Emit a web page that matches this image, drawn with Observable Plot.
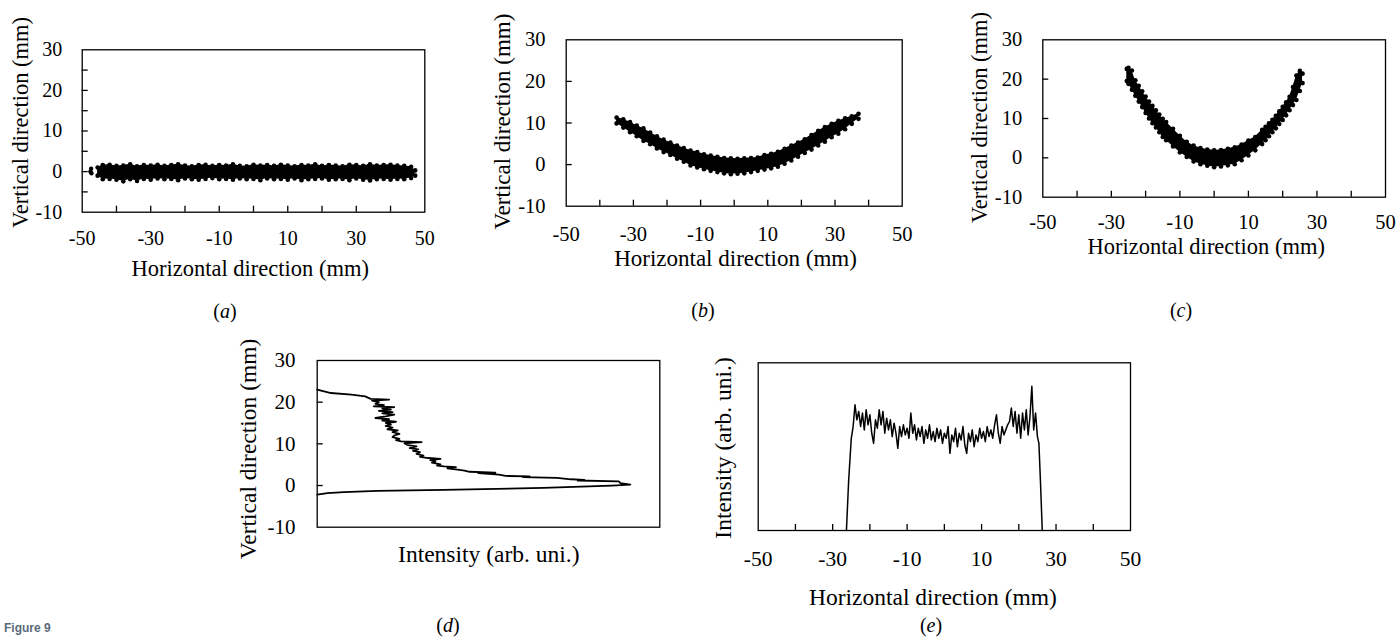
<!DOCTYPE html>
<html>
<head>
<meta charset="utf-8">
<script src="https://cdn.jsdelivr.net/npm/d3@7"></script>
<script src="https://cdn.jsdelivr.net/npm/@observablehq/plot@0.6"></script>
<style>
html,body{margin:0;padding:0;background:#fff;}
body{position:relative;width:1399px;height:637px;overflow:hidden;font-family:"Liberation Serif","Times New Roman",serif;color:#000;}
.panel{position:absolute;}
.panel svg{overflow:visible;display:block;}
.panel svg text{font-family:"Liberation Serif","Times New Roman",serif;}
.cap{position:absolute;font-size:20px;line-height:1;transform:translate(-50%,-50%);white-space:nowrap;}
.fig{position:absolute;left:4px;top:622px;font-family:"Liberation Sans",Arial,sans-serif;font-weight:bold;font-size:12px;line-height:1;color:#5b6b7a;}
</style>
</head>
<body>
<div id="pa" class="panel"></div>
<div id="pb" class="panel"></div>
<div id="pc" class="panel"></div>
<div id="pd" class="panel"></div>
<div id="pe" class="panel"></div>
<div class="cap" style="left:225px;top:311px">(<i>a</i>)</div>
<div class="cap" style="left:703px;top:310px">(<i>b</i>)</div>
<div class="cap" style="left:1181px;top:310px">(<i>c</i>)</div>
<div class="cap" style="left:448px;top:625px">(<i>d</i>)</div>
<div class="cap" style="left:931px;top:625px">(<i>e</i>)</div>
<div class="fig">Figure 9</div>
<script>
// ---------- data ----------
const hTickLabels = [-50, -30, -10, 10, 30, 50];
const vTickLabels = [-10, 0, 10, 20, 30];
const hMinorTicks = [-40, -30, -20, -10, 0, 10, 20, 30, 40];
const vMinorTicksA = [-5, 0, 5, 10, 15, 20, 25];
const vMinorTicks = [0, 10, 20];
const hTitle = "Horizontal direction (mm)";
const vTitle = "Vertical direction (mm)";
const iTitle = "Intensity (arb. uni.)";

// (a) beam spot band: x, upper and lower edge of the point cloud (mm)
const aX = [-45.5,-44,-42,-40,-38,-36,-34,-32,-30,-28,-26,-24,-22,-20,-18,-16,-14,-12,-10,-8,-6,-4,-2,0,2,4,6,8,10,12,14,16,18,20,22,24,26,28,30,32,34,36,38,40,42,44,46,47.2];
const aHi = [1.0,1.6,1.7,1.4,1.5,1.8,1.3,1.6,1.5,1.7,1.4,1.6, 1.8,1.5,1.3,1.6,1.7,1.4,1.6,1.5,1.8,1.4,1.3,1.7, 1.5,1.6,1.4,1.7,1.5,1.3,1.6,1.5,1.8,1.4,1.6,1.5, 1.3,1.7,1.6,1.4,1.8,1.5,1.6,1.7,1.5,1.4,1.2,0.3];
const aLo = [-1.0,-1.9,-1.8,-2.0,-2.4,-1.9,-2.3,-1.8,-2.0,-1.7,-1.9,-1.8, -2.1,-1.7,-1.9,-2.0,-1.8,-1.6,-1.9,-1.8,-2.0,-1.7,-1.9,-1.8, -2.1,-1.7,-1.9,-1.8,-2.0,-1.7,-2.1,-1.9,-1.8,-1.7,-2.0,-1.9, -1.8,-2.1,-1.7,-2.0,-2.2,-1.9,-1.8,-2.0,-1.8,-1.9,-1.6,-1.0];
const aStrayX = [-47.4, -47.6, -47.3];
const aStrayY = [0.7, 0.0, -0.4];

// (b)
const bX = [-35,-33,-31,-29,-27,-25,-23,-21,-19,-17,-15,-13,-11,-9,-7,-5,-3,-1,1,3,5,7,9,11,13,15,17,19,21,23,25,27,29,31,33,35,37];
const bHi = [11.3,10.9,10.2,9.4,8.7,7.7,6.8,6.0,5.3,4.6,4.0,3.4,3.0,2.5,2.2,1.9,1.6,1.5,1.4,1.5,1.6,1.7,2.3,2.6,3.1,3.8,4.6,5.3,6.1,7.1,8.1,9.0,9.8,10.5,11.1,11.6,12.2];
const bLo = [9.9,8.9,7.8,6.8,5.7,4.9,3.9,3.0,2.3,1.4,0.7,-0.2,-0.7,-1.1,-1.5,-1.8,-2.1,-2.3,-2.2,-2.1,-1.8,-1.5,-1.2,-0.9,-0.5,0.2,1.0,1.9,2.8,3.6,4.6,5.5,6.6,7.4,8.5,9.8,11.0];

// (c)
const cX = [-25.5,-25,-24,-23,-22,-21,-20,-19,-18,-17,-16,-15,-14,-12,-10,-8,-6,-4,-2,0,2,4,6,8,10,12,14,15,16,17,18,19,20,21,22,23,24,25,25.8];
const cHi = [22.6,22.9,22.2,19.7,18.3,16.9,15.6,14.3,13.2,12.1,11.0,9.9,9.1,7.4,5.6,4.1,3.1,2.5,2.1,1.9, 2.0,2.3,2.7,3.4,4.4,5.3,7.1,7.9,8.8,9.7,10.7,11.8,13.0,14.1,15.5,18.0,20.9,22.1,21.4];
const cLo = [19.5,18.8,17.3,15.8,14.3,12.9,11.4,10.0,8.8,7.7,6.5,5.3,4.5,2.9,1.4,0.2,-0.9,-1.6,-2.0,-2.4, -2.2,-1.9,-1.6,-0.6,0.6,1.9,3.5,4.5,5.5,6.5,7.5,8.6,9.6,10.8,12.1,13.4,14.7,17.0,19.0];

// (d) vertical intensity profile (path order)
const dVertical = [23.0,22.2,21.8,21.4,20.8,20.6,20.4,20.0,19.6,19.3,19.0,18.8,18.5,18.2,17.9,17.6,17.3,17.0,16.6,16.2,15.9,15.6,15.3,15.0,14.6,14.3,13.9,13.5,13.2,12.8,12.4,12.0,11.6,11.2,10.9,10.6,10.4,10.1,9.7,9.4,9.0,8.7,8.3,8.0,7.6,7.2,6.9,6.6,6.4,6.1,5.8,5.5,5.1,4.8,4.6,4.4,4.1,3.8,3.6,3.3,3.1,3.0,2.6,2.3,2.2,2.0,1.85,1.5,1.35,1.2,1.0,0.6,0.2,0.0,-0.56,-1.04,-1.28,-1.6,-1.84,-2.16];
const dIntensity = [0,0.04,0.10,0.14,0.156,0.21,0.16,0.18,0.17,0.195,0.165,0.225,0.19,0.215,0.18,0.22,0.19,0.225,0.2,0.17,0.21,0.19,0.23,0.2,0.215,0.2,0.22,0.205,0.235,0.22,0.24,0.225,0.22,0.24,0.23,0.245,0.305,0.255,0.265,0.29,0.27,0.295,0.28,0.30,0.29,0.31,0.30,0.325,0.36,0.33,0.345,0.335,0.36,0.35,0.37,0.405,0.38,0.41,0.43,0.445,0.52,0.47,0.53,0.55,0.62,0.60,0.70,0.74,0.78,0.76,0.88,0.885,0.914,0.86,0.66,0.37,0.175,0.078,0.03,0];

// (e) horizontal intensity profile
const eX = [-26.3,-25.7,-25.0,
 -24.5,-24,-23.5,-23,-22.5,-22,-21.5,-21,-20.5,-20,-19.5,-19,-18.5,-18,-17.5,-17,-16.5,-16,-15.5,-15,-14.5,-14,-13.5,-13,-12.5,-12,-11.5,-11,-10.5,-10,-9.5,-9,-8.5,-8,-7.5,-7,-6.5,-6,-5.5,-5,-4.5,-4,-3.5,-3,-2.5,-2,-1.5,-1,-0.5,0,0.5,1,1.5,2,2.5,3,3.5,4,4.5,5,5.5,6,6.5,7,7.5,8,8.5,9,9.5,10,10.5,11,11.5,12,12.5,13,13.5,14,14.5,15,15.5,16,16.5,17,17.5,18,18.5,19,19.5,20,20.5,21,21.5,22,22.5,23,23.5,24,24.5,25,
 25.4,25.8,26.3];
const eIntensity = [0,0.30,0.55,
 0.62,0.75,0.66,0.71,0.62,0.70,0.60,0.72,0.63,0.69,
 0.58,0.52,0.66,0.61,0.72,0.63,0.71,0.58,0.67,0.60,
 0.66,0.56,0.64,0.58,0.49,0.62,0.56,0.63,0.57,0.61,
 0.55,0.70,0.58,0.63,0.54,0.61,0.56,0.62,0.52,0.60,
 0.55,0.63,0.54,0.59,0.53,0.61,0.55,0.60,0.52,0.58,
 0.55,0.62,0.46,0.57,0.53,0.61,0.50,0.58,0.54,0.62,
 0.51,0.46,0.58,0.53,0.60,0.50,0.57,0.53,0.61,0.55,
 0.59,0.53,0.62,0.56,0.60,0.55,0.63,0.69,0.58,0.52,
 0.62,0.57,0.60,0.63,0.65,0.73,0.62,0.71,0.58,0.69,
 0.55,0.70,0.60,0.72,0.57,0.68,0.86,0.60,0.70,0.56,
 0.52,0.30,0];

// ---------- rendering ----------
const FONT = "'Liberation Serif','Times New Roman',serif";

function place(id, box, svg) {
  const el = document.getElementById(id);
  el.style.left = box[0] + "px";
  el.style.top = box[1] + "px";
  el.append(svg);
}
function margins(frame, box) {
  const [fl, ft, fr, fb] = frame, [sl, st, sw, sh] = box;
  return {width: sw, height: sh, marginLeft: fl - sl, marginTop: ft - st, marginRight: sl + sw - fr, marginBottom: st + sh - fb};
}
function title(text, anchor, dx, dy, size, rotate = 0) {
  return Plot.text([text], {frameAnchor: anchor, dx, dy, rotate, fontSize: size, text: d => d, textAnchor: "middle", lineAnchor: "middle", fill: "black"});
}

function scatterPanel(cfg) {
  const {X, LO, HI, extraX = [], extraY = [], frame, box, yMinor, xPad, yPad, yT, xT, tickFont, titleFont} = cfg;
  const rows = X.map((x, i) => ({x, lo: LO[i], hi: HI[i]}));
  const extra = extraX.map((x, i) => ({x, y: extraY[i]}));
  const fw = frame[2] - frame[0], fh = frame[3] - frame[1];
  return Plot.plot({
    ...margins(frame, box),
    style: {fontFamily: FONT, fontSize: tickFont + "px", color: "black", background: "white", overflow: "visible"},
    x: {domain: [-50, 50]},
    y: {domain: [-10, 30]},
    marks: [
      Plot.areaY(rows, {x: "x", y1: "lo", y2: "hi", fill: "black"}),
      Plot.dot(rows, {x: "x", y: "lo", r: 2.3, fill: "black"}),
      Plot.dot(rows, {x: "x", y: "hi", r: 2.3, fill: "black"}),
      Plot.dot(extra, {x: "x", y: "y", r: 2.2, fill: "black"}),
      Plot.tickX(hMinorTicks, {x: d => d, insetTop: fh - 6, stroke: "black", strokeWidth: 1.3}),
      Plot.tickY(yMinor, {y: d => d, insetRight: fw - 6, stroke: "black", strokeWidth: 1.3}),
      Plot.frame({stroke: "black", strokeWidth: 1.3}),
      Plot.axisX({ticks: hTickLabels, tickSize: 0, tickPadding: xPad, tickFormat: d => String(d), fontSize: tickFont, label: null}),
      Plot.axisY({ticks: vTickLabels, tickSize: 0, tickPadding: yPad, tickFormat: d => String(d), fontSize: tickFont, label: null}),
      title(vTitle, "left", yT[0], yT[1], titleFont, -90),
      title(hTitle, "bottom", xT[0], xT[1], titleFont)
    ]
  });
}

const boxA = [0, 0, 440, 290], frameA = [81.7, 49.3, 424.3, 211.7];
place("pa", boxA, scatterPanel({X: aX, LO: aLo, HI: aHi, extraX: aStrayX, extraY: aStrayY,
  frame: frameA, box: boxA, yMinor: vMinorTicksA, xPad: 19, yPad: 20, yT: [-61.7, -8.5], xT: [-3.3, 56.3], tickFont: 20, titleFont: 22.5}));

const boxB = [470, 0, 450, 290], frameB = [565.7, 39.3, 901.7, 205.7];
place("pb", boxB, scatterPanel({X: bX, LO: bLo, HI: bHi,
  frame: frameB, box: boxB, yMinor: vMinorTicks, xPad: 20, yPad: 20.7, yT: [-64, -1.5], xT: [1.3, 52.6], tickFont: 20.5, titleFont: 23}));

const boxC = [950, 0, 449, 290], frameC = [1042.3, 39.3, 1385, 196.7];
place("pc", boxC, scatterPanel({X: cX, LO: cLo, HI: cHi,
  frame: frameC, box: boxC, yMinor: vMinorTicks, xPad: 17.6, yPad: 20.6, yT: [-63, -1], xT: [-7.9, 50], tickFont: 20.5, titleFont: 22.5}));

// (d)
const boxD = [220, 320, 460, 270], frameD = [316.7, 360, 659.3, 526.7];
{
  const rows = dVertical.map((y, i) => ({i: dIntensity[i], y}));
  const fw = frameD[2] - frameD[0];
  place("pd", boxD, Plot.plot({
    ...margins(frameD, boxD),
    style: {fontFamily: FONT, fontSize: "21px", color: "black", background: "white", overflow: "visible"},
    x: {domain: [0, 1], axis: null},
    y: {domain: [-10, 30]},
    marks: [
      Plot.line(rows, {x: "i", y: "y", stroke: "black", strokeWidth: 1.8}),
      Plot.tickY(vMinorTicks, {y: d => d, insetRight: fw - 6, stroke: "black", strokeWidth: 1.3}),
      Plot.frame({stroke: "black", strokeWidth: 1.3}),
      Plot.axisY({ticks: vTickLabels, tickSize: 0, tickPadding: 21.7, tickFormat: d => String(d), fontSize: 21, label: null}),
      title(vTitle, "left", -68.4, 5, 23.5, -90),
      title(iTitle, "bottom", 0.3, 27.3, 23.5)
    ]
  }));
}

// (e)
const boxE = [690, 320, 460, 300], frameE = [757.7, 362.3, 1130, 530];
{
  const rows = eX.map((x, i) => ({x, v: eIntensity[i]}));
  const fh = frameE[3] - frameE[1];
  place("pe", boxE, Plot.plot({
    ...margins(frameE, boxE),
    style: {fontFamily: FONT, fontSize: "21.5px", color: "black", background: "white", overflow: "visible"},
    x: {domain: [-50, 50]},
    y: {domain: [0, 1], axis: null},
    marks: [
      Plot.line(rows, {x: "x", y: "v", stroke: "black", strokeWidth: 1.5}),
      Plot.tickX(hMinorTicks, {x: d => d, insetTop: fh - 6, stroke: "black", strokeWidth: 1.3}),
      Plot.frame({stroke: "black", strokeWidth: 1.3}),
      Plot.axisX({ticks: hTickLabels, tickSize: 0, tickPadding: 20.3, tickFormat: d => String(d), fontSize: 21.5, label: null}),
      title(iTitle, "left", -34.4, 1.3, 23.5, -90),
      title(hTitle, "bottom", -11.4, 66.7, 23.5)
    ]
  }));
}
</script>
</body>
</html>
